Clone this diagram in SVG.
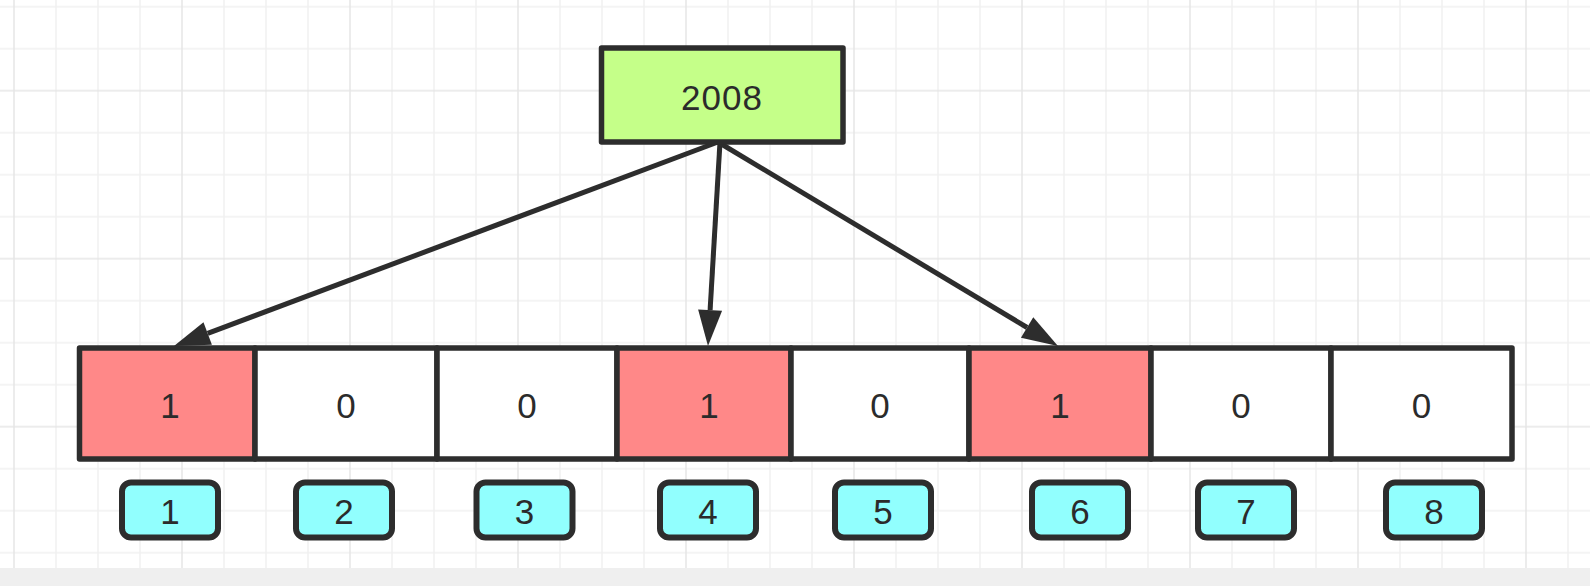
<svg xmlns="http://www.w3.org/2000/svg" width="1590" height="586" viewBox="0 0 1590 586">
<style>
.t{font-family:"Liberation Sans",Arial,sans-serif;font-size:35px;fill:#2b2b2b;text-anchor:middle}
.cell{stroke:#2d2d2d;stroke-width:5.5;stroke-linejoin:round}
.on{fill:#ff8888}
.off{fill:#ffffff}
.lbl{fill:#91fffe;stroke:#2d2d2d;stroke-width:6}
.edge{stroke:#2d2d2d;stroke-width:5;fill:none}
</style>
<defs>
<pattern id="grid" patternUnits="userSpaceOnUse" x="-7" y="69.7" width="168" height="168">
<g stroke="#f1f1f1" stroke-width="1.5">
<line x1="63" y1="0" x2="63" y2="168"/><line x1="105" y1="0" x2="105" y2="168"/><line x1="147" y1="0" x2="147" y2="168"/>
<line x1="0" y1="63" x2="168" y2="63"/><line x1="0" y1="105" x2="168" y2="105"/><line x1="0" y1="147" x2="168" y2="147"/>
</g>
<g stroke="#e6e6e6" stroke-width="1.5">
<line x1="21" y1="0" x2="21" y2="168"/><line x1="0" y1="21" x2="168" y2="21"/>
</g>
</pattern>
<marker id="arr" markerUnits="userSpaceOnUse" markerWidth="40" markerHeight="28" refX="0" refY="14" orient="auto" overflow="visible">
<path d="M0,2 L36,14 L0,26 Z" fill="#2d2d2d"/>
</marker>
</defs>
<rect x="0" y="0" width="1590" height="586" fill="#ffffff"/>
<rect x="0" y="0" width="1590" height="568" fill="url(#grid)"/>
<rect x="0" y="568" width="1590" height="18" fill="#efefef"/>

<g id="connectors">
<line class="edge" x1="718" y1="142" x2="207.7" y2="333.4" marker-end="url(#arr)"/>
<line class="edge" x1="720" y1="142" x2="710.1" y2="310.1" marker-end="url(#arr)"/>
<line class="edge" x1="718" y1="142" x2="1027.1" y2="327.5" marker-end="url(#arr)"/>
</g>

<g id="root">
<rect class="cell" x="601.5" y="48" width="241.5" height="94" fill="#c5ff89"/>
<text class="t" x="722" y="109.5" letter-spacing="1">2008</text>
</g>

<g id="cell1"><rect class="cell on" x="79.5" y="348" width="175.5" height="111"/><text class="t" x="170" y="418">1</text></g>
<g id="cell2"><rect class="cell off" x="255" y="348" width="182" height="111"/><text class="t" x="346" y="418">0</text></g>
<g id="cell3"><rect class="cell off" x="437" y="348" width="180" height="111"/><text class="t" x="527" y="418">0</text></g>
<g id="cell4"><rect class="cell on" x="617" y="348" width="174" height="111"/><text class="t" x="709" y="418">1</text></g>
<g id="cell5"><rect class="cell off" x="791" y="348" width="178" height="111"/><text class="t" x="880" y="418">0</text></g>
<g id="cell6"><rect class="cell on" x="969" y="348" width="182" height="111"/><text class="t" x="1060" y="418">1</text></g>
<g id="cell7"><rect class="cell off" x="1151" y="348" width="180" height="111"/><text class="t" x="1241" y="418">0</text></g>
<g id="cell8"><rect class="cell off" x="1331" y="348" width="181" height="111"/><text class="t" x="1421.5" y="418">0</text></g>

<g id="label1"><rect class="lbl" x="122" y="482.5" width="96" height="55" rx="9"/><text class="t" x="170" y="524">1</text></g>
<g id="label2"><rect class="lbl" x="296" y="482.5" width="96" height="55" rx="9"/><text class="t" x="344" y="524">2</text></g>
<g id="label3"><rect class="lbl" x="476.5" y="482.5" width="96" height="55" rx="9"/><text class="t" x="524.5" y="524">3</text></g>
<g id="label4"><rect class="lbl" x="660" y="482.5" width="96" height="55" rx="9"/><text class="t" x="708" y="524">4</text></g>
<g id="label5"><rect class="lbl" x="835" y="482.5" width="96" height="55" rx="9"/><text class="t" x="883" y="524">5</text></g>
<g id="label6"><rect class="lbl" x="1032" y="482.5" width="96" height="55" rx="9"/><text class="t" x="1080" y="524">6</text></g>
<g id="label7"><rect class="lbl" x="1198" y="482.5" width="96" height="55" rx="9"/><text class="t" x="1246" y="524">7</text></g>
<g id="label8"><rect class="lbl" x="1386" y="482.5" width="96" height="55" rx="9"/><text class="t" x="1434" y="524">8</text></g>
</svg>
